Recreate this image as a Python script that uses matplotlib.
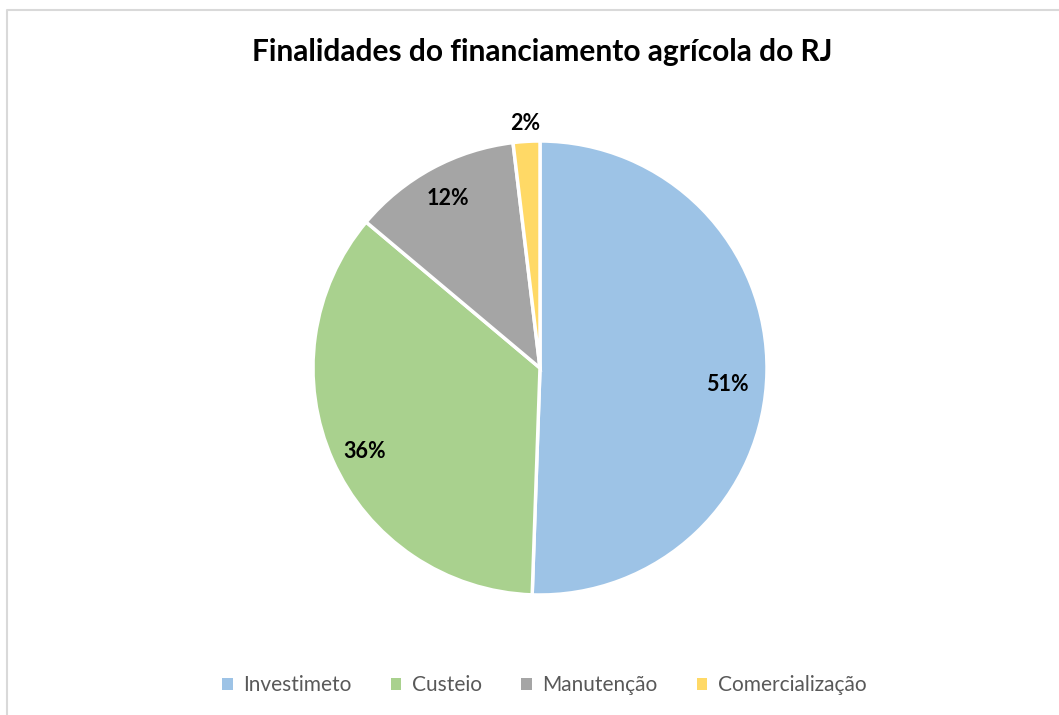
import numpy as np
import matplotlib.pyplot as plt
from matplotlib.lines import Line2D
from matplotlib.patches import Patch

# Dados
categorias = ['Investimeto', 'Custeio', 'Manutenção', 'Comercialização']
valores = [50.6, 35.6, 12.0, 1.9]
cores = ['#9DC3E6', '#A9D18E', '#A5A5A5', '#FFD966']
titulo = 'Finalidades do financiamento agrícola do RJ'

plt.rcParams['font.family'] = ['Lato', 'DejaVu Sans']

fig = plt.figure(figsize=(10.59, 7.15), dpi=100)

# borda do gráfico (estilo Excel)
fig.add_artist(Line2D([7/1059, 7/1059, 1.0], [0.0, 1 - 10/715, 1 - 10/715],
                      transform=fig.transFigure, color='#D9D9D9', lw=1.5))

# eixo do pizza: centro (540, 368), raio 227 px
cx, cy, r = 540, 368, 227
ax = fig.add_axes([(cx - r)/1059, (715 - cy - r)/715, 2*r/1059, 2*r/715])
fatias, _ = ax.pie(valores, colors=cores, startangle=90, counterclock=False,
                   wedgeprops=dict(edgecolor='white', linewidth=2.5))
ax.set_xlim(-1, 1)
ax.set_ylim(-1, 1)
ax.set_aspect('equal')
ax.axis('off')

# rótulos de percentagem (Excel desloca um pouco do ângulo médio)
total = sum(valores)
dist_rotulos = [0.83, 0.855, 0.85, 1.08]
desvio_ang = [-4, 1.5, 0, 0]
for fatia, v, d, da in zip(fatias, valores, dist_rotulos, desvio_ang):
    ang = np.deg2rad((fatia.theta1 + fatia.theta2) / 2 + da)
    ax.text(d*np.cos(ang), d*np.sin(ang), '%.0f%%' % (100*v/total),
            ha='center', va='center', fontsize=15.5, fontweight='bold', color='black')

fig.text(0.512, 1 - 52/715, titulo, ha='center', va='center',
         fontsize=21.5, fontweight='bold', color='black')

handles = [Patch(facecolor=c, edgecolor='none') for c in cores]
fig.legend(handles, categorias, loc='center', bbox_to_anchor=(0.514, 1 - 685/715),
           ncol=4, frameon=False, fontsize=15, labelcolor='#595959',
           handlelength=0.5, handleheight=0.5, handletextpad=0.5, columnspacing=1.9)

fig.savefig('out.png', dpi=100, facecolor='white')
